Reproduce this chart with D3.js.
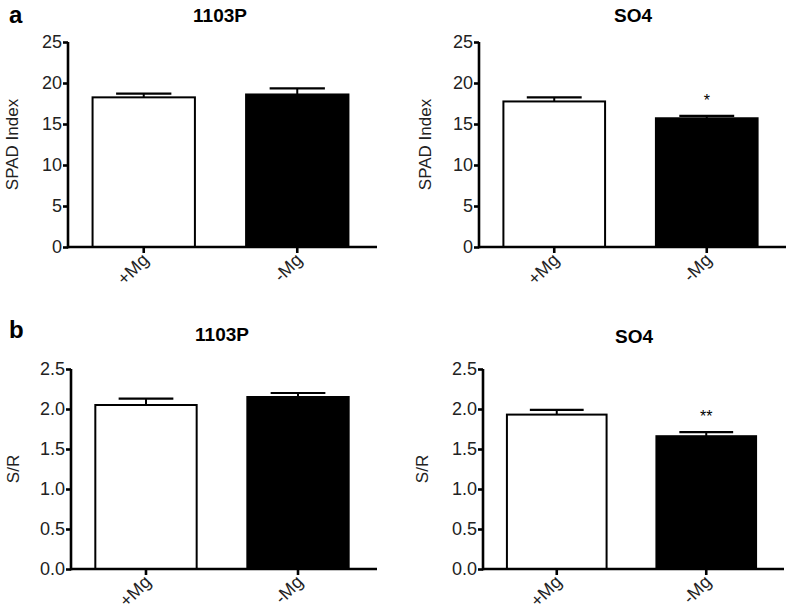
<!DOCTYPE html>
<html>
  <head>
    <meta charset="utf-8">
    <script src="https://d3js.org/d3.v7.min.js"></script>
    <style type="text/css">

html, body {
  margin: 0;
  padding: 0;
  background: #fff;
}

svg {
  font-family: Arial, "Liberation Sans", sans-serif;
}

.axis path, .axis line {
  stroke: #000;
  stroke-width: 2.6px;
}

    </style>
  </head>
  <body>
    <svg id="chart" width="787" height="610"></svg>
    <script type="text/javascript">

var categories = ["+Mg", "-Mg"];
var fills = ["#fff", "#000"];

// SPAD index, means and mean+SE
var spad1103P = [18.25, 18.6];
var spad1103PErr = [18.7, 19.35];
var spadSO4 = [17.75, 15.7];
var spadSO4Err = [18.25, 16.0];
var spadSig = ["", "*"];
var spadTicks = [0, 5, 10, 15, 20, 25];

// shoot/root ratio
var sr1103P = [2.05, 2.15];
var sr1103PErr = [2.13, 2.2];
var srSO4 = [1.93, 1.66];
var srSO4Err = [1.99, 1.71];
var srSig = ["", "**"];
var srTicks = [0, 0.5, 1.0, 1.5, 2.0, 2.5];

var svg = d3.select("#chart");

function panel(opt) {
  var g = svg.append("g");

  var x = d3.scaleBand()
      .domain(categories)
      .range([opt.x0, opt.x1])
      .paddingInner(1 / 3)
      .paddingOuter(0.16);

  var y = d3.scaleLinear()
      .domain([0, opt.max])
      .range([opt.y0, opt.y1]);

  var bars = categories.map(function(c, i) {
    return {cat: c, v: opt.values[i], e: opt.errs[i], sig: opt.sig ? opt.sig[i] : "", fill: fills[i]};
  });

  // error bars first so the bar covers the lower part
  var eb = g.selectAll(".err").data(bars).enter().append("g").attr("class", "err");
  eb.append("line")
      .attr("x1", function(d) { return x(d.cat) + x.bandwidth() / 2; })
      .attr("x2", function(d) { return x(d.cat) + x.bandwidth() / 2; })
      .attr("y1", function(d) { return y(d.v); })
      .attr("y2", function(d) { return y(d.e); })
      .attr("stroke", "#000").attr("stroke-width", 2);
  eb.append("line")
      .attr("x1", function(d) { return x(d.cat) + x.bandwidth() * 0.23; })
      .attr("x2", function(d) { return x(d.cat) + x.bandwidth() * 0.77; })
      .attr("y1", function(d) { return y(d.e); })
      .attr("y2", function(d) { return y(d.e); })
      .attr("stroke", "#000").attr("stroke-width", 2.2);

  g.selectAll(".bar").data(bars).enter().append("rect")
      .attr("class", "bar")
      .attr("x", function(d) { return x(d.cat); })
      .attr("y", function(d) { return y(d.v); })
      .attr("width", x.bandwidth())
      .attr("height", function(d) { return opt.y0 - y(d.v); })
      .attr("fill", function(d) { return d.fill; })
      .attr("stroke", "#000")
      .attr("stroke-width", 2);

  g.selectAll(".sig").data(bars).enter().append("text")
      .attr("x", function(d) { return x(d.cat) + x.bandwidth() / 2; })
      .attr("y", function(d) { return y(d.e) - 10; })
      .attr("text-anchor", "middle")
      .style("font-size", "16px")
      .text(function(d) { return d.sig; });

  var yAxis = g.append("g")
      .attr("class", "axis")
      .attr("transform", "translate(" + opt.x0 + ",0)")
      .call(d3.axisLeft(y).tickValues(opt.ticks).tickSize(5).tickPadding(1)
        .tickFormat(opt.fmt));
  yAxis.select(".domain").attr("d", "M0," + (opt.y0 + 1.3) + "V" + opt.y1);
  yAxis.selectAll("text").style("font-size", "18px").attr("fill", "#222");

  var xAxis = g.append("g")
      .attr("class", "axis")
      .attr("transform", "translate(0," + opt.y0 + ")")
      .call(d3.axisBottom(x).tickSize(6).tickSizeOuter(0));
  xAxis.select(".domain").attr("d", "M" + opt.x0 + ",0H" + (opt.x1 + 4));
  xAxis.selectAll("text")
      .style("font-size", "18px")
      .attr("fill", "#222")
      .attr("text-anchor", "end")
      .attr("x", 0)
      .attr("y", 0)
      .attr("dy", 0)
      .attr("transform", "translate(6,14) rotate(-45)");

  var lx = opt.x0 - opt.lpad, ly = (opt.y0 + opt.y1) / 2;
  g.append("text")
      .attr("x", lx)
      .attr("y", ly)
      .attr("transform", "rotate(-90," + lx + "," + ly + ")")
      .attr("text-anchor", "middle")
      .style("font-size", "17px")
      .attr("fill", "#222")
      .text(opt.ylabel);

  g.append("text")
      .attr("x", opt.tx)
      .attr("y", opt.ty)
      .attr("text-anchor", "middle")
      .style("font-size", "19px")
      .style("font-weight", "bold")
      .text(opt.title);
}

panel({x0: 68, x1: 373, y0: 247, y1: 42, max: 25, ticks: spadTicks, fmt: d3.format("d"),
       values: spad1103P, errs: spad1103PErr, ylabel: "SPAD Index", lpad: 50,
       title: "1103P", tx: 220, ty: 22});
panel({x0: 479, x1: 782, y0: 247, y1: 42, max: 25, ticks: spadTicks, fmt: d3.format("d"),
       values: spadSO4, errs: spadSO4Err, sig: spadSig, ylabel: "SPAD Index", lpad: 48,
       title: "SO4", tx: 633, ty: 22});
panel({x0: 71, x1: 373, y0: 569, y1: 369, max: 2.5, ticks: srTicks, fmt: d3.format(".1f"),
       values: sr1103P, errs: sr1103PErr, ylabel: "S/R", lpad: 52,
       title: "1103P", tx: 222, ty: 341});
panel({x0: 483, x1: 780, y0: 569, y1: 369, max: 2.5, ticks: srTicks, fmt: d3.format(".1f"),
       values: srSO4, errs: srSO4Err, sig: srSig, ylabel: "S/R", lpad: 55,
       title: "SO4", tx: 634, ty: 343});

svg.append("text").attr("x", 9).attr("y", 23)
    .style("font-size", "24px").style("font-weight", "bold").text("a");
svg.append("text").attr("x", 9).attr("y", 338)
    .style("font-size", "24px").style("font-weight", "bold").text("b");

    </script>
  </body>
</html>
